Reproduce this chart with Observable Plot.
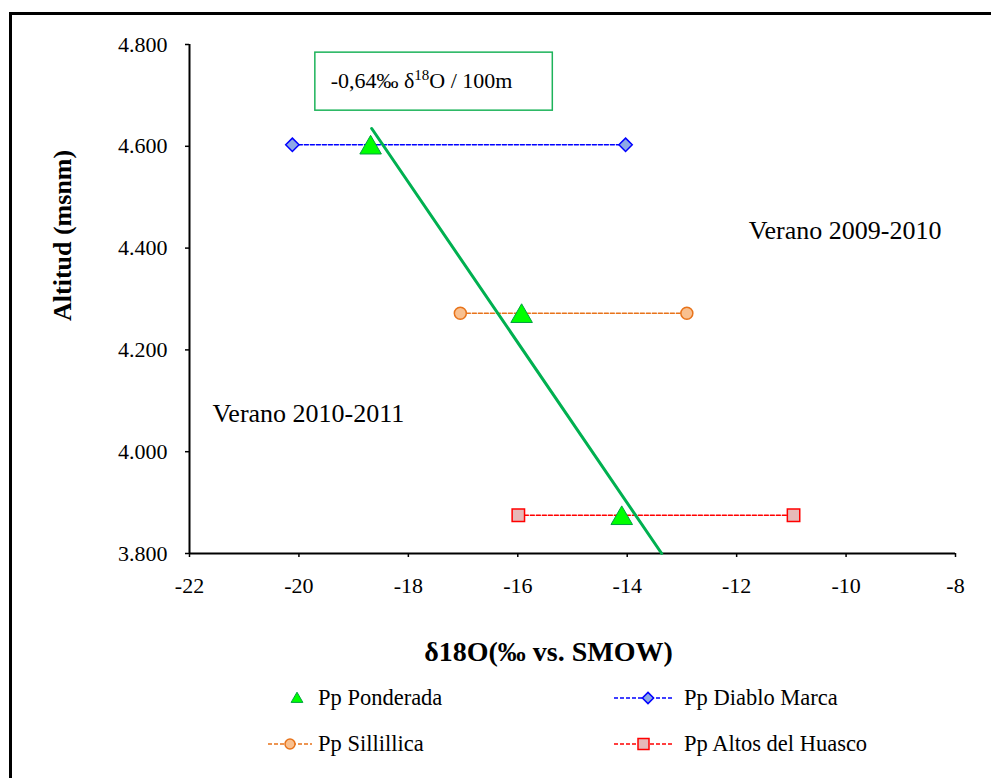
<!DOCTYPE html>
<html><head><meta charset="utf-8">
<script src="https://cdn.jsdelivr.net/npm/d3@7"></script>
<script src="https://cdn.jsdelivr.net/npm/@observablehq/plot@0.6"></script>
<style>
html,body{margin:0;padding:0;background:#fff;overflow:hidden;}
#wrap{position:relative;width:991px;height:778px;overflow:hidden;font-family:"Liberation Serif",serif;}
#frame{position:absolute;left:9px;top:12px;width:1100px;height:900px;border:3px solid #000;box-sizing:border-box;}
#chart{position:absolute;left:0;top:0;}
.leg{position:absolute;height:30px;display:flex;align-items:center;font-size:22.5px;color:#000;white-space:nowrap;}
.leg svg{display:block;}
</style></head><body>
<div id="wrap"><div id="frame"></div><div id="chart"></div><div id="legend"></div></div>
<script>
// ---- data ----
const ponderadaX = [-18.69, -15.93, -14.10];
const ponderadaY = [4603, 4272, 3875];
const diabloX = [-20.12, -14.03];
const diabloY = [4603, 4603];
const sillillicaX = [-17.05, -12.91];
const sillillicaY = [4272, 4272];
const huascoX = [-15.99, -10.96];
const huascoY = [3875, 3875];
const trendX = [-18.67, -13.37];
const trendY = [4635, 3800];
const xTicks = [-22, -20, -18, -16, -14, -12, -10, -8];
const yTicks = [3800, 4000, 4200, 4400, 4600, 4800];
const seasonLabels = ["Verano 2009-2010", "Verano 2010-2011"];
const seasonX = [-11.78, -21.58];
const seasonY = [4434, 4075];
const boxX = [-19.70, -15.36];
const boxY = [4670, 4784];
const boxLabel = "-0,64‰ δ18O / 100m";
const boxLabelX = -19.42, boxLabelY = 4729;
const xTitle = "δ18O(‰ vs. SMOW)";
const yTitle = "Altitud (msnm)";
const legendNames = ["Pp Ponderada", "Pp Diablo Marca", "Pp Sillillica", "Pp Altos del Huasco"];

const pts = (xs, ys) => xs.map((x, i) => ({x, y: ys[i]}));
const ponderada = pts(ponderadaX, ponderadaY);
const diablo = pts(diabloX, diabloY);
const sillillica = pts(sillillicaX, sillillicaY);
const huasco = pts(huascoX, huascoY);
const trend = pts(trendX, trendY);
const seasons = seasonLabels.map((t, i) => ({t, x: seasonX[i], y: seasonY[i]}));

const C = {
  blue: "#0000FF", blueFill: "#8DA9E6",
  orange: "#E8731A", orangeFill: "#F9C08F",
  red: "#FF0000", redFill: "#E6B9B8",
  green: "#00B050", lime: "#00FF00", limeStroke: "#00A040"
};
const FF = "Liberation Serif";

const chart = Plot.plot({
  width: 991, height: 640,
  marginLeft: 189, marginRight: 36, marginTop: 44, marginBottom: 87,
  x: {domain: [-22, -8]},
  y: {domain: [3800, 4800]},
  style: {fontFamily: FF, fontSize: "22px", background: "transparent", overflow: "visible", color: "#000"},
  marks: [
    Plot.rect([{x1: boxX[0], x2: boxX[1], y1: boxY[0], y2: boxY[1]}], {x1: "x1", x2: "x2", y1: "y1", y2: "y2", fill: "white", stroke: "#1DB35A", strokeWidth: 1.5}),
    Plot.text([boxLabel], {x: boxLabelX, y: boxLabelY, textAnchor: "start", fontSize: 22, fontFamily: FF, className: "boxlabel"}),
    Plot.text(seasons, {x: "x", y: "y", text: "t", textAnchor: "start", fontSize: 26, fontFamily: FF}),
    Plot.axisX({ticks: xTicks, tickSize: 4, tickPadding: 20, strokeWidth: 1.5, label: null, fontSize: 22, fontFamily: FF, tickFormat: d => String(d)}),
    Plot.axisY({ticks: yTicks, tickSize: 4, tickPadding: 18, strokeWidth: 1.5, label: null, fontSize: 22, fontFamily: FF, tickFormat: d => d3.format(",")(d).replace(",", ".")}),
    Plot.ruleX([-22], {strokeWidth: 2}),
    Plot.ruleY([3800], {strokeWidth: 2}),
    Plot.line(diablo, {x: "x", y: "y", stroke: C.blue, strokeWidth: 1.5, strokeDasharray: "4,2"}),
    Plot.line(sillillica, {x: "x", y: "y", stroke: C.orange, strokeWidth: 1.5, strokeDasharray: "4,2"}),
    Plot.line(huasco, {x: "x", y: "y", stroke: C.red, strokeWidth: 1.5, strokeDasharray: "4,2"}),
    Plot.dot(diablo, {x: "x", y: "y", symbol: "diamond2", r: 6, fill: C.blueFill, stroke: C.blue, strokeWidth: 1.5}),
    Plot.dot(sillillica, {x: "x", y: "y", symbol: "circle", r: 6, fill: C.orangeFill, stroke: C.orange, strokeWidth: 1.5}),
    Plot.dot(huasco, {x: "x", y: "y", symbol: "square", r: 7, fill: C.redFill, stroke: C.red, strokeWidth: 1.5}),
    Plot.dot(ponderada, {x: "x", y: "y", symbol: "triangle", r: 8, dy: 3, fill: C.lime, stroke: C.limeStroke, strokeWidth: 1}),
    Plot.line(trend, {x: "x", y: "y", stroke: C.green, strokeWidth: 3}),
    Plot.text([yTitle], {frameAnchor: "left", rotate: -90, dx: -127, dy: 22, fontSize: 26, fontWeight: "bold", fontFamily: FF}),
    Plot.text([xTitle], {frameAnchor: "bottom", dx: -24, dy: 107, fontSize: 28, fontWeight: "bold", fontFamily: FF})
  ]
});
document.getElementById("chart").appendChild(chart);

// superscript in box label
d3.select(chart).selectAll("g.boxlabel text").each(function() {
  const t = d3.select(this);
  t.text(null);
  t.append("tspan").text("-0,64‰ δ");
  t.append("tspan").attr("dy", "-8").attr("font-size", "15").text("18");
  t.append("tspan").attr("dy", "8").text("O / 100m");
});

// ---- legend ----
const leg = d3.select("#legend");
function item(left, top, name, symW, draw) {
  const d = leg.append("div").attr("class", "leg").style("left", left + "px").style("top", top + "px");
  const s = d.append("svg").attr("width", symW).attr("height", 30);
  draw(s);
  d.append("span").style("margin-left", "6px").text(name);
}
item(263, 683, legendNames[0], 49, s => {
  s.append("path").attr("d", d3.symbol(d3.symbolTriangle, 60)()).attr("transform", "translate(34,16)")
    .attr("fill", C.lime).attr("stroke", C.limeStroke).attr("stroke-width", 1);
});
item(612, 683, legendNames[1], 66, s => {
  s.append("line").attr("x1", 2).attr("x2", 62).attr("y1", 15).attr("y2", 15).attr("stroke", C.blue).attr("stroke-width", 1.5).attr("stroke-dasharray", "4,2");
  s.append("path").attr("d", d3.symbol(d3.symbolDiamond2, 80)()).attr("transform", "translate(36,15)")
    .attr("fill", C.blueFill).attr("stroke", C.blue).attr("stroke-width", 1.5);
});
item(266, 729, legendNames[2], 46, s => {
  s.append("line").attr("x1", 2).attr("x2", 46).attr("y1", 15).attr("y2", 15).attr("stroke", C.orange).attr("stroke-width", 1.5).attr("stroke-dasharray", "4,2");
  s.append("circle").attr("cx", 24).attr("cy", 15).attr("r", 5).attr("fill", C.orangeFill).attr("stroke", C.orange).attr("stroke-width", 1.5);
});
item(612, 729, legendNames[3], 66, s => {
  s.append("line").attr("x1", 2).attr("x2", 62).attr("y1", 15).attr("y2", 15).attr("stroke", C.red).attr("stroke-width", 1.5).attr("stroke-dasharray", "4,2");
  s.append("rect").attr("x", 26).attr("y", 9.5).attr("width", 11).attr("height", 11).attr("fill", C.redFill).attr("stroke", C.red).attr("stroke-width", 1.5);
});
</script>
</body></html>
